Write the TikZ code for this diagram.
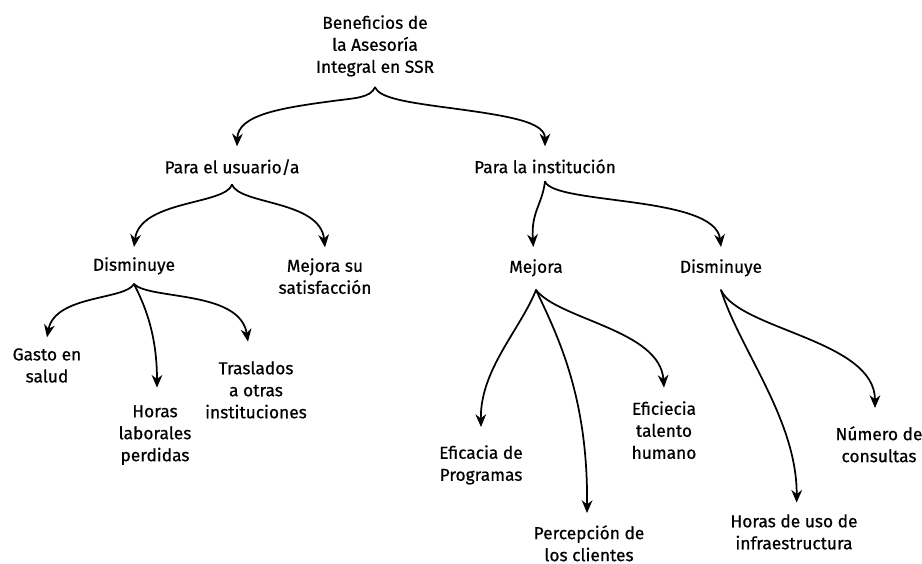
\documentclass[tikz,border=0pt]{standalone}
\usepackage{fontspec}
\setmainfont{Fira Sans}[FakeBold=0.6]
\usetikzlibrary{arrows.meta}
\begin{document}
\begin{tikzpicture}[x=0.75pt,y=-0.75pt,
  lbl/.style={inner sep=0pt, anchor=north, align=center,
    font=\fontsize{13}{16.5}\selectfont},
  arr/.style={line width=1.3pt, line cap=round,
    -{Stealth[length=9.5pt,width=8pt,inset=3pt]}},
]
\useasboundingbox (0,0) rectangle (922,564);

% labels
\node[lbl] (root) at (375,15) {Beneficios de\\la Asesoría\\Integral en SSR};
\node[lbl] (usr)  at (232,159) {Para el usuario/a};
\node[lbl] (ins)  at (545,159) {Para la institución};
\node[lbl] (dL)   at (134,257) {Disminuye};
\node[lbl] (msat) at (325,258) {Mejora su\\satisfacción};
\node[lbl] (mej)  at (536,259) {Mejora};
\node[lbl] (dR)   at (721,259) {Disminuye};
\node[lbl] (gasto) at (47,348) {Gasto en\\salud};
\node[lbl] (horL) at (155,405) {Horas\\laborales\\perdidas};
\node[lbl] (tras) at (256,361) {Traslados\\a otras\\instituciones};
\node[lbl] (efic) at (481,445) {Eficacia de\\Programas};
\node[lbl] (perc) at (589,525) {Percepción de\\los clientes};
\node[lbl] (efi2) at (664,401) {Eficiecia\\talento\\humano};
\node[lbl] (horI) at (794,514) {Horas de uso de\\infraestructura};
\node[lbl] (num)  at (879,426) {Número de\\consultas};

% level 1
\draw[arr] ([yshift=-8pt]root.south)
  .. controls (370,98) and (355,98) .. (333,101)
  .. controls (280,108) and (238,115) .. ([xshift=3.75pt,yshift=9.5pt]usr.north);
\draw[arr] ([yshift=-8pt]root.south)
  .. controls (380,98) and (405,102) .. (450,108)
  .. controls (510,116) and (545,122) .. ([yshift=9.5pt]ins.north);

% level 2
\draw[arr] ([yshift=-7pt]usr.south)
  .. controls (225,205) and (140,200) .. ([yshift=7.5pt]dL.north);
\draw[arr] ([yshift=-7pt]usr.south)
  .. controls (240,205) and (320,200) .. ([yshift=8pt]msat.north);
\draw[arr] ([yshift=-6pt]ins.south)
  .. controls (542,205) and (531,212) .. ([xshift=-2pt,yshift=9pt]mej.north);
\draw[arr] ([yshift=-6pt]ins.south)
  .. controls (555,205) and (715,195) .. ([yshift=9pt]dR.north);

% level 3, left
\draw[arr] ([yshift=-7pt]dL.south)
  .. controls (125,300) and (55,295) .. ([yshift=8pt]gasto.north);
\draw[arr] ([yshift=-7pt]dL.south)
  .. controls (142,300) and (157,330) .. ([xshift=1.5pt,yshift=13pt]horL.north);
\draw[arr] ([yshift=-7pt]dL.south)
  .. controls (150,300) and (240,290) .. ([xshift=-6pt,yshift=14.5pt]tras.north);

% level 3, right
\draw[arr] ([yshift=-10pt]mej.south)
  .. controls (520,330) and (480,370) .. ([yshift=13.5pt]efic.north);
\draw[arr] ([yshift=-10pt]mej.south)
  .. controls (560,340) and (588,400) .. ([xshift=-1.5pt,yshift=9pt]perc.north);
\draw[arr] ([yshift=-10pt]mej.south)
  .. controls (560,320) and (660,330) .. ([yshift=10pt]efi2.north);
\draw[arr] ([yshift=-10pt]dR.south)
  .. controls (740,350) and (797,420) .. ([xshift=2pt,yshift=8.5pt]horI.north);
\draw[arr] ([yshift=-10pt]dR.south)
  .. controls (740,330) and (875,340) .. ([xshift=-3pt,yshift=13.5pt]num.north);
\end{tikzpicture}
\end{document}
